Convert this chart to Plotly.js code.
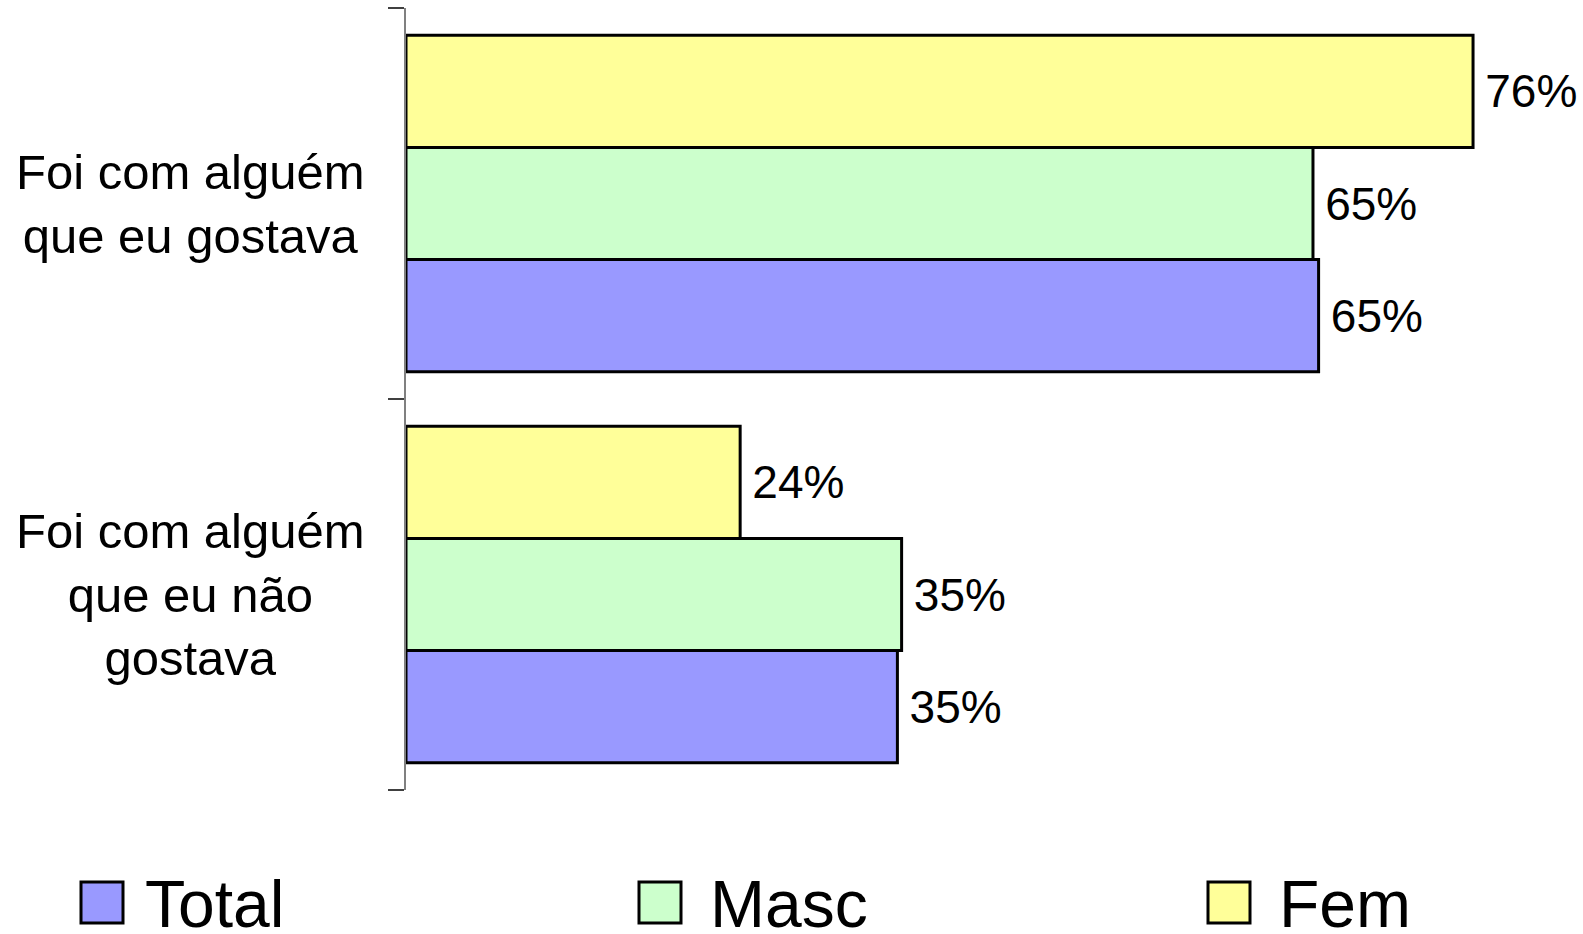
<!DOCTYPE html>
<html>
<head>
<meta charset="utf-8">
<script src="https://cdn.plot.ly/plotly-3.0.1.min.js"></script>
<style>html,body{margin:0;padding:0;background:#fff;}</style>
</head>
<body>
<div id="chart" style="width:1583px;height:934px;"></div>
<script>
// ---- data ----
const categories = ["Foi com alguém que eu gostava", "Foi com alguém que eu não gostava"];
const categoryLabels = ["Foi com alguém<br>que eu gostava", "Foi com alguém<br>que eu não<br>gostava"];
const seriesNames = ["Total", "Masc", "Fem"];
const totalValues = [65.0, 35.0];
const mascValues = [64.6, 35.3];
const femValues = [76.0, 23.8];
const totalLabels = ["65%", "35%"];
const mascLabels = ["65%", "35%"];
const femLabels = ["76%", "24%"];

// ---- styling ----
const colors = ["#9999FF", "#CCFFCC", "#FFFF99"];
const W = 1583, H = 934;
const ML = 406, MR = 0, MT = 8, MB = 144;
const PW = W - ML - MR, PH = H - MT - MB;
const px2x = p => (p - ML) / PW;
const px2y = p => (H - MB - p) / PH;
const mainFont = "Liberation Sans, Arial, sans-serif";

const seriesValues = [totalValues, mascValues, femValues];
const seriesLabels = [totalLabels, mascLabels, femLabels];

const traces = seriesNames.map((name, i) => ({
  type: "bar",
  orientation: "h",
  name: name,
  y: categories,
  x: seriesValues[i],
  text: seriesLabels[i].map(t => "\u2009" + t),
  textposition: "outside",
  constraintext: "none",
  cliponaxis: false,
  textfont: {family: mainFont, size: 46, color: "#000"},
  marker: {color: colors[i], line: {color: "#000", width: 3}},
  hoverinfo: "skip"
}));

const annotations = categories.map((c, i) => ({
  xref: "paper", yref: "y",
  x: px2x(190), y: c,
  xanchor: "center", yanchor: "middle", align: "center",
  text: categoryLabels[i],
  showarrow: false,
  font: {family: mainFont, size: 49, color: "#000"}
}));

const legendMarkX = [81, 639, 1208];
const legendTextX = [143, 708, 1277];
const shapes = [];
seriesNames.forEach((name, i) => {
  shapes.push({
    type: "rect", xref: "paper", yref: "paper",
    x0: px2x(legendMarkX[i]), x1: px2x(legendMarkX[i] + 42),
    y0: px2y(882), y1: px2y(923),
    fillcolor: colors[i], line: {color: "#000", width: 3}
  });
  annotations.push({
    xref: "paper", yref: "paper",
    x: px2x(legendTextX[i]), y: px2y(904),
    xanchor: "left", yanchor: "middle",
    text: name, showarrow: false,
    font: {family: mainFont, size: 66, color: "#000"}
  });
});

const layout = {
  width: W, height: H,
  margin: {l: ML, r: MR, t: MT, b: MB, pad: 0},
  paper_bgcolor: "#fff", plot_bgcolor: "#fff",
  barmode: "group", bargap: 0.14, bargroupgap: 0,
  showlegend: false,
  xaxis: {range: [0, PW / 14.04], visible: false, fixedrange: true},
  yaxis: {
    type: "category",
    categoryorder: "array",
    categoryarray: categories.slice().reverse(),
    range: [-0.5, 1.5],
    showline: true, linecolor: "#808080", linewidth: 2,
    ticks: "outside", tickson: "boundaries", ticklen: 16, tickwidth: 2, tickcolor: "#404040",
    showticklabels: false, showgrid: false, zeroline: false, fixedrange: true
  },
  annotations: annotations,
  shapes: shapes
};

Plotly.newPlot("chart", traces, layout, {displayModeBar: false, staticPlot: true});
</script>
</body>
</html>
